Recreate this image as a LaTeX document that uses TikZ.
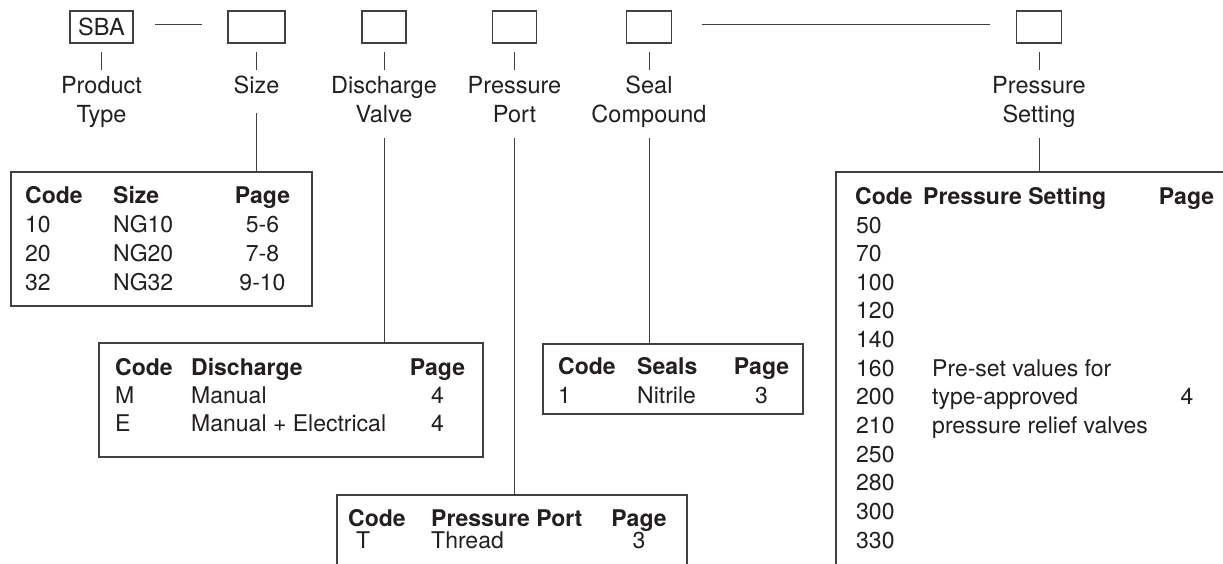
\documentclass[tikz,border=0pt]{standalone}
\usepackage{fontspec}
\setmainfont{TeX Gyre Heros}
\definecolor{ink}{HTML}{231F20}
\definecolor{frame}{HTML}{404040}
\begin{document}
\begin{tikzpicture}[x=1pt,y=-1pt,
  every node/.style={text=ink},
  lbl/.style={font=\fontsize{23.5}{28}\selectfont, anchor=base, inner sep=0},
  cell/.style={font=\fontsize{23}{28}\selectfont, anchor=base west, inner sep=0},
  pcell/.style={font=\fontsize{23}{28}\selectfont, anchor=base, inner sep=0},
  hd/.style={font=\fontsize{23}{28}\selectfont\bfseries},
  topbox/.style={draw=frame, line width=1.2pt, minimum height=32pt, inner sep=0, outer sep=0, font=\fontsize{23.5}{28}\selectfont},
  tabframe/.style={draw=frame, line width=1.2pt, inner sep=0, outer sep=0, anchor=north west},
  conn/.style={draw=frame, line width=1pt}]
\fill[white] (0,0) rectangle (1223,563);
\clip (0,0) rectangle (1223,563);

% top code boxes
\node[topbox, minimum width=63pt] (sba) at (101.5,27) {SBA};
\node[topbox, minimum width=57pt] (bsize) at (256.5,27) {};
\node[topbox, minimum width=44pt] (bdis) at (384,27) {};
\node[topbox, minimum width=44pt] (bpp) at (514.5,27) {};
\node[topbox, minimum width=45pt] (bseal) at (649,27) {};
\node[topbox, minimum width=45pt] (bps) at (1039,27) {};

\draw[conn] ([xshift=22pt,yshift=2.5pt]sba.east) -- ([xshift=-26pt,yshift=2.5pt]bsize.west);
\draw[conn] ([xshift=30pt,yshift=2.5pt]bseal.east) -- ([xshift=-27pt,yshift=2.5pt]bps.west);

% ticks
\foreach \b in {sba,bsize,bdis,bpp,bseal,bps}
  \draw[conn] ([yshift=-9pt]\b.south) -- ([yshift=-27pt]\b.south);

% labels
\node[lbl] (lprod1) at (101.5,93) {Product};
\node[lbl] (lprod2) at (101.5,122) {Type};
\node[lbl] (lsize) at (256.5,93) {Size};
\node[lbl] (ldis1) at (384,93) {Discharge};
\node[lbl] (ldis2) at (384,122) {Valve};
\node[lbl] (lpp1) at (514.5,93) {Pressure};
\node[lbl] (lpp2) at (514.5,122) {Port};
\node[lbl] (lseal1) at (649,93) {Seal};
\node[lbl] (lseal2) at (649,122) {Compound};
\node[lbl] (lps1) at (1039,93) {Pressure};
\node[lbl] (lps2) at (1039,122) {Setting};

% table frames
\node[tabframe, minimum width=301pt, minimum height=134pt] (tsize) at (11,172) {};
\node[tabframe, minimum width=384pt, minimum height=114pt] (tdis) at (99,343) {};
\node[tabframe, minimum width=350pt, minimum height=120pt] (tpp) at (337,495) {};
\node[tabframe, minimum width=260pt, minimum height=70pt] (tseal) at (543,344) {};
\node[tabframe, minimum width=500pt, minimum height=450pt] (tps) at (836,172) {};

% connectors label -> table
\draw[conn] ([yshift=-20pt]lsize.base) -- (lsize.base |- tsize.north);
\draw[conn] ([yshift=-16pt]ldis2.base) -- (ldis2.base |- tdis.north);
\draw[conn] ([yshift=-16pt]lpp2.base) -- (lpp2.base |- tpp.north);
\draw[conn] ([yshift=-16pt]lseal2.base) -- (lseal2.base |- tseal.north);
\draw[conn] ([yshift=-16pt]lps2.base) -- (lps2.base |- tps.north);

% size table
\node[cell,hd] (sc0) at (25,203) {Code};
\node[cell,hd] (sn0) at (113,203) {Size};
\node[pcell,hd] (sp0) at (262.5,203) {Page};
\foreach \c/\n/\p [count=\i] in {10/NG10/5-6, 20/NG20/7-8, 32/NG32/9-10} {
  \node[cell] (sc\i) at (25,{203+29*\i}) {\c};
  \node[cell] (sn\i) at (113,{203+29*\i}) {\n};
  \node[pcell] (sp\i) at (262.5,{203+29*\i}) {\p};
}

% discharge table
\node[cell,hd] (dc0) at (115,375) {Code};
\node[cell,hd] (dn0) at (191,375) {Discharge};
\node[pcell,hd] (dp0) at (437.5,375) {Page};
\node[cell] (dc1) at (115,403) {M};
\node[cell] (dn1) at (191,403) {Manual};
\node[pcell] (dp1) at (437.5,403) {4};
\node[cell] (dc2) at (115,431) {E};
\node[cell] (dn2) at (191,431) {Manual + Electrical};
\node[pcell] (dp2) at (437.5,431) {4};

% pressure port table
\node[cell,hd] (pc0) at (348,526) {Code};
\node[cell,hd] (pn0) at (431,526) {Pressure Port};
\node[pcell,hd] (pp0) at (639,526) {Page};
\node[cell] (pc1) at (356,548) {T};
\node[cell] (pn1) at (431,548) {Thread};
\node[pcell] (pp1) at (639,548) {3};

% seal table
\node[cell,hd] (ec0) at (558,374) {Code};
\node[cell,hd] (en0) at (637,374) {Seals};
\node[pcell,hd] (ep0) at (761.5,374) {Page};
\node[cell] (ec1) at (558,403) {1};
\node[cell] (en1) at (637,403) {Nitrile};
\node[pcell] (ep1) at (761.5,403) {3};

% pressure setting table
\node[cell,hd] (tc0) at (855,204) {Code};
\node[cell,hd] (tn0) at (923,204) {Pressure Setting};
\node[pcell,hd] (tp0) at (1186.5,204) {Page};
\foreach \c [count=\i from 0] in {50,70,100,120,140,160,200,210,250,280,300,330}
  \node[cell] (tc\c) at (856,{233+28.64*\i}) {\c};
\node[cell] (td1) at (932,{233+28.64*5}) {Pre-set values for};
\node[cell] (td2) at (932,{233+28.64*6}) {type-approved};
\node[cell] (td3) at (932,{233+28.64*7}) {pressure relief valves};
\node[pcell] (tp1) at (1187,{233+28.64*6}) {4};
\end{tikzpicture}
\end{document}
